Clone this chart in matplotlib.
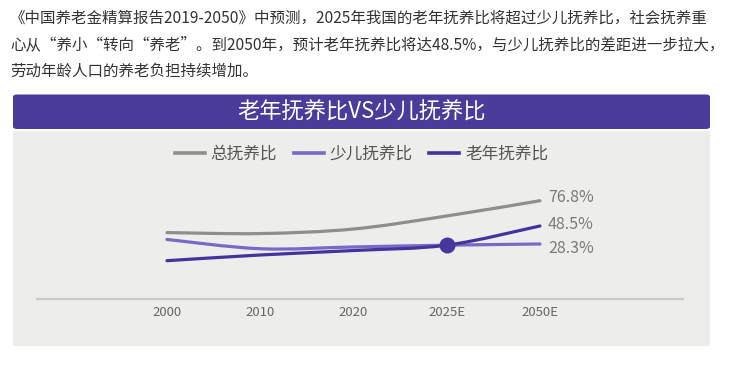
import matplotlib
matplotlib.use('Agg')
import matplotlib.pyplot as plt
from matplotlib.path import Path
from matplotlib.patches import PathPatch, FancyBboxPatch, Rectangle
from matplotlib.lines import Line2D

plt.rcParams['font.family'] = ['Noto Sans CJK SC', 'DejaVu Sans']

# data
years = ['2000', '2010', '2020', '2025E', '2050E']
total_ratio = [41.1, 40.0, 45.1, 59.7, 76.8]
youth_ratio = [33.4, 23.0, 25.0, 27.0, 28.3]
elderly_ratio = [9.6, 16.0, 21.0, 27.0, 48.5]
series_names = ['总抚养比', '少儿抚养比', '老年抚养比']
end_labels = ['76.8%', '28.3%', '48.5%']

intro = ('《中国养老金精算报告2019-2050》中预测，2025年我国的老年抚养比将超过少儿抚养比，社会抚养重\n'
         '心从“养小“转向“养老”。到2050年，预计老年抚养比将达48.5%，与少儿抚养比的差距进一步拉大，\n'
         '劳动年龄人口的养老负担持续增加。')
title = '老年抚养比VS少儿抚养比'

colors = ['#8e8e8e', '#7a68c6', '#44339c']

W, H = 740, 367


def box(x0, y0, x1, y1):
    # pixel box (y from top) -> figure fractions
    return x0 / W, 1 - y1 / H, (x1 - x0) / W, (y1 - y0) / H


def smooth_path(xs, ys):
    # catmull-rom through the points, as cubic bezier segments
    pts = list(zip(xs, ys))
    ext = [pts[0]] + pts + [pts[-1]]
    verts = [pts[0]]
    codes = [Path.MOVETO]
    for i in range(1, len(ext) - 2):
        p0, p1, p2, p3 = ext[i - 1], ext[i], ext[i + 1], ext[i + 2]
        c1 = (p1[0] + (p2[0] - p0[0]) / 6, p1[1] + (p2[1] - p0[1]) / 6)
        c2 = (p2[0] - (p3[0] - p1[0]) / 6, p2[1] - (p3[1] - p1[1]) / 6)
        verts += [c1, c2, p2]
        codes += [Path.CURVE4] * 3
    return Path(verts, codes)


fig = plt.figure(figsize=(7.4, 3.67), dpi=100)
fig.patch.set_facecolor('white')

# grey panel and purple header
x, y, w, h = box(13, 131, 710, 346)
fig.patches.append(Rectangle((x, y), w, h, transform=fig.transFigure,
                             facecolor='#ededeb', edgecolor='none', zorder=-3))
x, y, w, h = box(13, 94.5, 710, 129)
fig.patches.append(FancyBboxPatch((x, y), w, h, boxstyle='round,pad=0,rounding_size=0.006',
                                  transform=fig.transFigure, facecolor='#4b3b9b',
                                  edgecolor='none', zorder=-2))
fig.text(361.5 / W, 1 - 112 / H, title, color='white', fontsize=16,
         ha='center', va='center')

fig.text(10 / W, 1 - 10 / H, intro, color='#333333', fontsize=11.15,
         ha='left', va='top', linespacing=1.74)

ax = fig.add_axes(box(36.7, 180, 683.3, 299))
ax.set_zorder(2)
ax.set_facecolor('none')
xs = list(range(len(years)))
for vals, c in zip([total_ratio, youth_ratio, elderly_ratio], colors):
    ax.add_patch(PathPatch(smooth_path(xs, vals), facecolor='none', edgecolor=c,
                           lw=2.3, capstyle='round', zorder=3))

# crossing point at 2025E
ax.plot(xs[3], elderly_ratio[3], 'o', color='#46379e', markersize=10.5, zorder=4)

offsets = [3, -4, 1.5]
for vals, lab, dy in zip([total_ratio, youth_ratio, elderly_ratio], end_labels, offsets):
    ax.annotate(lab, xy=(xs[-1], vals[-1]), xytext=(8, dy), textcoords='offset pixels',
                color='#7a7a7a', fontsize=11.5, ha='left', va='center')

ax.set_xlim(-1.397, 5.537)
ax.set_ylim(-33.3, 100)
ax.set_xticks(xs)
ax.set_xticklabels(years, color='#666666', fontsize=9.5, fontweight='medium')
ax.set_yticks([])
ax.tick_params(axis='x', length=0, pad=5)
for s in ['top', 'left', 'right']:
    ax.spines[s].set_visible(False)
ax.spines['bottom'].set_color('#c9c9c9')
ax.spines['bottom'].set_linewidth(1.6)

handles = [Line2D([], [], color=c, lw=2.6) for c in colors]
fig.legend(handles, series_names, loc='center', bbox_to_anchor=(361.5 / W, 1 - 154 / H),
           ncol=3, frameon=False, fontsize=12, labelcolor='#555555',
           handlelength=1.8, handletextpad=0.35, columnspacing=1.0)

fig.savefig('out.png', dpi=100)
